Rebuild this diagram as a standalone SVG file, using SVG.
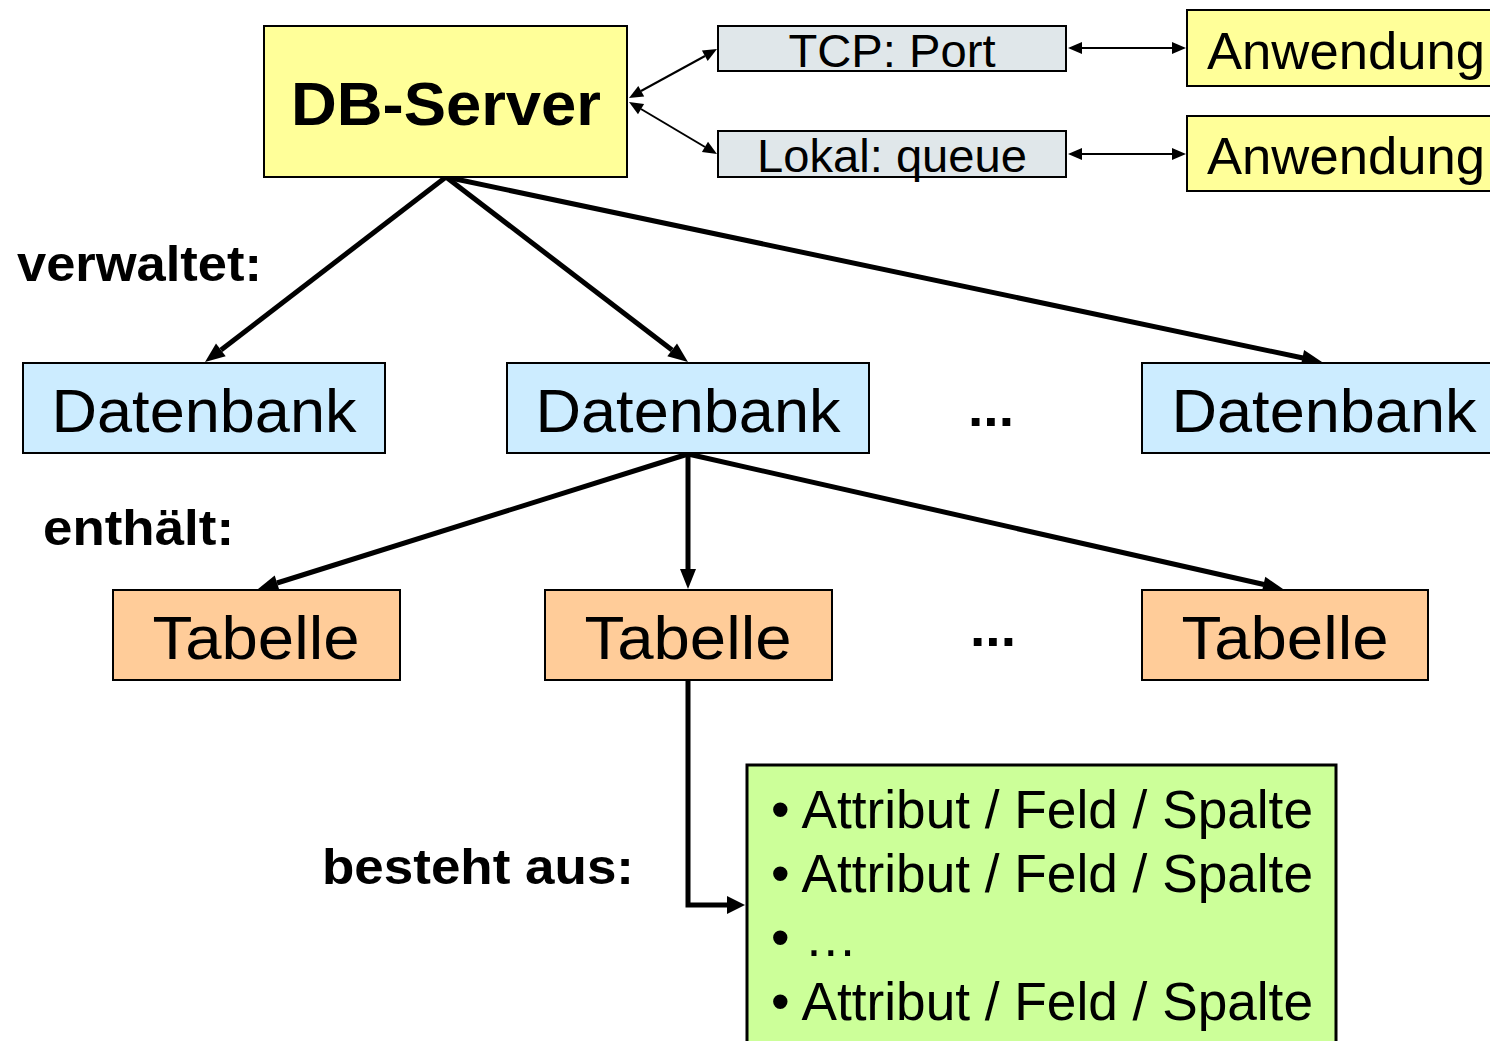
<svg xmlns="http://www.w3.org/2000/svg" width="1490" height="1041" viewBox="0 0 1490 1041">
<style>
text{font-family:"Liberation Sans",Arial,sans-serif;fill:#000}
.b{font-weight:bold}
.box{stroke:#000;stroke-width:2}
.yel{fill:#FFFF99}.blu{fill:#CCECFF}.org{fill:#FFCC99}.grn{fill:#CCFF99}.gry{fill:#E0E7EA}
.main{fill:none;stroke:#000;stroke-width:5}
.thin{fill:none;stroke:#000;stroke-width:2}
.head{fill:#000;stroke:none}
</style>
<rect width="1490" height="1041" fill="#fff"/>
<g id="connectors">
<path class="main" d="M446,177 L221,350"/>
<polygon class="head" points="205,362 216.0,343.5 225.7,356.2"/>
<path class="main" d="M446,177 L672,350"/>
<polygon class="head" points="688,362 667.3,356.2 677.0,343.5"/>
<path class="main" d="M446,177 L1303,358"/>
<polygon class="head" points="1322,362 1300.8,365.7 1304.1,350.0"/>
<path class="main" d="M688,454 L277,583"/>
<polygon class="head" points="258,589 274.7,575.4 279.5,590.6"/>
<path class="main" d="M688,454 L688,570"/>
<polygon class="head" points="688,589 680,569 696,569"/>
<path class="main" d="M688,454 L1264,584.5"/>
<polygon class="head" points="1283,589 1261.7,592.4 1265.3,576.8"/>
<path class="main" d="M688,680 L688,905 L728,905"/>
<polygon class="head" points="745,905 727,896 727,914"/>
<path class="thin" d="M641,91 L705,56"/>
<polygon class="head" points="717,49 707.7,61.1 701.9,50.6"/>
<polygon class="head" points="629,98 644.2,96.4 638.3,86.0"/>
<path class="thin" d="M641,109 L705,147"/>
<polygon class="head" points="717,154 701.9,152.1 708.0,141.7"/>
<polygon class="head" points="629,102 638.0,114.3 644.1,104.0"/>
<path class="thin" d="M1080,48 L1174,48"/>
<polygon class="head" points="1068,48 1082,42 1082,54"/>
<polygon class="head" points="1186,48 1172,42 1172,54"/>
<path class="thin" d="M1080,154 L1174,154"/>
<polygon class="head" points="1068,154 1082,148 1082,160"/>
<polygon class="head" points="1186,154 1172,148 1172,160"/>
</g>
<g id="db-server"><rect class="box yel" x="264" y="26" width="363" height="151"/><text class="b" x="446" y="125" font-size="62" text-anchor="middle" textLength="310" lengthAdjust="spacingAndGlyphs">DB-Server</text></g>
<g id="tcp-port"><rect class="box gry" x="718" y="26" width="348" height="45"/><text x="892" y="67" font-size="46" text-anchor="middle" textLength="207" lengthAdjust="spacingAndGlyphs">TCP: Port</text></g>
<g id="lokal-queue"><rect class="box gry" x="718" y="131" width="348" height="46"/><text x="892" y="172" font-size="46" text-anchor="middle" textLength="270" lengthAdjust="spacingAndGlyphs">Lokal: queue</text></g>
<g id="anwendung1"><rect class="box yel" x="1187" y="10" width="320" height="76"/><text x="1207" y="69" font-size="52" textLength="278" lengthAdjust="spacingAndGlyphs">Anwendung</text></g>
<g id="anwendung2"><rect class="box yel" x="1187" y="116" width="320" height="75"/><text x="1207" y="174" font-size="52" textLength="278" lengthAdjust="spacingAndGlyphs">Anwendung</text></g>
<g id="label-verwaltet"><text class="b" x="17" y="281" font-size="50" textLength="245" lengthAdjust="spacingAndGlyphs">verwaltet:</text></g>
<g id="datenbank1"><rect class="box blu" x="23" y="363" width="362" height="90"/><text x="204" y="432" font-size="62" text-anchor="middle" textLength="305" lengthAdjust="spacingAndGlyphs">Datenbank</text></g>
<g id="datenbank2"><rect class="box blu" x="507" y="363" width="362" height="90"/><text x="688" y="432" font-size="62" text-anchor="middle" textLength="305" lengthAdjust="spacingAndGlyphs">Datenbank</text></g>
<g id="dots1"><text class="b" x="968" y="426" font-size="54" textLength="46" lengthAdjust="spacingAndGlyphs">...</text></g>
<g id="datenbank3"><rect class="box blu" x="1142" y="363" width="365" height="90"/><text x="1324" y="432" font-size="62" text-anchor="middle" textLength="305" lengthAdjust="spacingAndGlyphs">Datenbank</text></g>
<g id="label-enthaelt"><text class="b" x="43" y="545" font-size="50" textLength="191" lengthAdjust="spacingAndGlyphs">enthält:</text></g>
<g id="tabelle1"><rect class="box org" x="113" y="590" width="287" height="90"/><text x="256" y="659" font-size="62" text-anchor="middle" textLength="207" lengthAdjust="spacingAndGlyphs">Tabelle</text></g>
<g id="tabelle2"><rect class="box org" x="545" y="590" width="287" height="90"/><text x="688" y="659" font-size="62" text-anchor="middle" textLength="207" lengthAdjust="spacingAndGlyphs">Tabelle</text></g>
<g id="dots2"><text class="b" x="970" y="646" font-size="54" textLength="46" lengthAdjust="spacingAndGlyphs">...</text></g>
<g id="tabelle3"><rect class="box org" x="1142" y="590" width="286" height="90"/><text x="1285" y="659" font-size="62" text-anchor="middle" textLength="207" lengthAdjust="spacingAndGlyphs">Tabelle</text></g>
<g id="label-besteht"><text class="b" x="322" y="884" font-size="50" textLength="312" lengthAdjust="spacingAndGlyphs">besteht aus:</text></g>
<g id="attribute">
<rect class="grn" x="747" y="765" width="589" height="290" stroke="#000" stroke-width="3"/>
<text x="771" y="828" font-size="53" textLength="542" lengthAdjust="spacingAndGlyphs">• Attribut / Feld / Spalte</text>
<text x="771" y="892" font-size="53" textLength="542" lengthAdjust="spacingAndGlyphs">• Attribut / Feld / Spalte</text>
<text x="771" y="956" font-size="53">• …</text>
<text x="771" y="1020" font-size="53" textLength="542" lengthAdjust="spacingAndGlyphs">• Attribut / Feld / Spalte</text>
</g>
</svg>
